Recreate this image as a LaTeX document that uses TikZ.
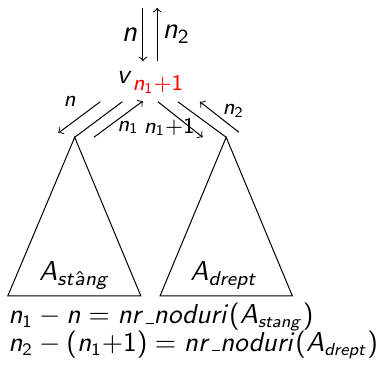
\documentclass[tikz,border=0pt,11pt]{standalone}
\usetikzlibrary{arrows.meta,positioning,calc}
% litere matematice fara serife
\SetSymbolFont{operators}{normal}{OT1}{cmss}{m}{n}
\SetSymbolFont{letters}{normal}{OT1}{cmss}{m}{it}
\newcommand{\sublinie}{\kern.06em\vbox{\hrule width.3em}}

\begin{document}
\begin{tikzpicture}[
  font=\sffamily,
  >=to,
  lbl/.style={inner sep=1pt, font=\footnotesize},
  eq/.style={anchor=west, inner sep=0pt, font=\fontsize{10.7}{13}\selectfont}]
\useasboundingbox (0,0) rectangle (5.30,5.16);
\node (v) at (2.11,4.00) {$v$\raisebox{-0.6ex}{\footnotesize\color{red}$n_1{+}1$}};
\coordinate (inA) at (2.01,5.05); \coordinate (inB) at (2.01,4.30);
\coordinate (outA) at (2.21,4.30); \coordinate (outB) at (2.21,5.05);
\draw[->] (inA) -- (inB); \draw[->] (outA) -- (outB);
\node[lbl, left=1pt of $(inA)!0.5!(inB)$, font=\large] (nin) {$n$};
\node[lbl, right=1pt of $(outA)!0.5!(outB)$, font=\large] (nout) {$n_2$};
% subarbori
\coordinate (ls) at (1.05,3.23); \coordinate (rs) at (3.18,3.23);
\draw (ls) -- (0.11,1.00) -- (1.98,1.00) -- cycle;
\draw (rs) -- (2.25,1.00) -- (4.11,1.00) -- cycle;
\node (ast) at (1.05,1.29) {$A_{st\hat{a}ng}$};
\node (adr) at (3.15,1.29) {$A_{drept}$};
\coordinate (le) at (1.72,3.73); \coordinate (re) at (2.50,3.73);
\draw (ls) -- (le); \draw (rs) -- (re);
% parcurgere
\coordinate (nA) at (1.41,3.73); \coordinate (nB) at (0.82,3.29);
\coordinate (n1A) at (1.32,3.23); \coordinate (n1B) at (2.01,3.74);
\coordinate (n1pA) at (2.22,3.73); \coordinate (n1pB) at (2.85,3.23);
\coordinate (n2A) at (3.36,3.30); \coordinate (n2B) at (2.81,3.73);
\draw[->] (nA) -- (nB); \draw[->] (n1A) -- (n1B);
\draw[->] (n1pA) -- (n1pB); \draw[->] (n2A) -- (n2B);
\node[lbl] (ln) at (0.98,3.73) {$n$};
\node[lbl] (ln1) at (1.80,3.37) {$n_1$};
\node[lbl] (ln1p) at (2.38,3.37) {$n_1{+}1$};
\node[lbl] (ln2) at (3.28,3.60) {$n_2$};
% relatii
\node[eq] (eq1) at (0.11,0.70) {$n_1 - n = nr\sublinie noduri(A_{stang})$};
\node[eq] (eq2) at (0.11,0.31) {$n_2 - (n_1{+}1) = nr\sublinie noduri(A_{drept})$};
\end{tikzpicture}
\end{document}
